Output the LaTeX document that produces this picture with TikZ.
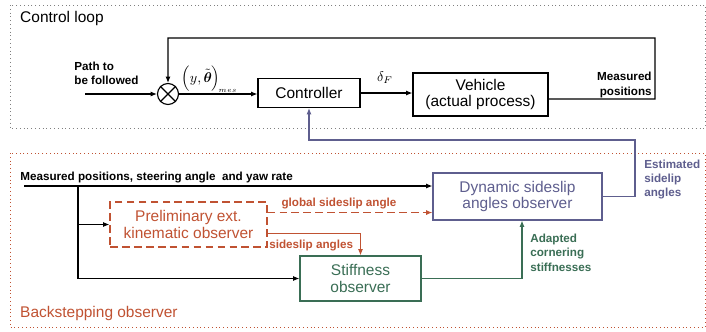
\documentclass[tikz,border=0pt]{standalone}
\usepackage{fontspec}
\setmainfont{Liberation Sans}
\usepackage{amsmath,amsbsy}
\usetikzlibrary{arrows.meta}
\definecolor{obsorange}{RGB}{192,82,50}
\definecolor{obsgreen}{RGB}{58,110,85}
\definecolor{obspurple}{RGB}{94,94,142}
\begin{document}
\begin{tikzpicture}[line width=0.8pt, x=0.025cm, y=-0.025cm, >={Latex[length=4.5pt,width=3.6pt]}]

    \tikzset{block/.style={%
      draw,%
      rectangle,%
      align=center,%
      inner sep=1pt,%
      font=\fontsize{11}{12}\selectfont}%
    };

    \tikzset{smalllabel/.style={font=\fontsize{8.3}{10.3}\selectfont\bfseries, inner sep=2pt}};
    \tikzset{framelabel/.style={font=\fontsize{11}{13}\selectfont, anchor=west}};
    \tikzset{frame/.style={dotted, line width=0.7pt}};

    \useasboundingbox (0,0) rectangle (706,331);

    %%%%%%%%%%%%%%%%%%
    %  control loop  %
    %%%%%%%%%%%%%%%%%%
    \draw[frame, gray] (10,5) rectangle (705,128);
    \node[framelabel] (cl) at (15,18) {Control loop};

    \node[circle, draw, minimum size=0.525cm, inner sep=0pt] (sum) at (168,94) {};
    \draw (sum.north west) -- (sum.south east);
    \draw (sum.north east) -- (sum.south west);
    \node[block, minimum width=2.55cm, minimum height=0.725cm] (ctrl) at (309,93) {Controller};
    \node[block, minimum width=3.375cm, minimum height=1.075cm] (veh) at (480.5,94.5) {Vehicle\\(actual process)};

    \node[smalllabel, align=left, anchor=west] (path) at (71,73.5) {Path to\\be followed};
    \coordinate (pin) at (85,94);
    \coordinate (fb) at (655,99);
    \coordinate (fbtop) at (655,38);

    \draw [->] (pin) -- (sum);
    \draw [->] (sum.east) -- (ctrl.west |- sum.east);
    \node[inner sep=0pt, anchor=west] (mes) at (181,79) {$\left(y,\tilde{\boldsymbol{\theta}}\right)_{\!\scriptscriptstyle mes}$};
    \draw [->] (ctrl.east) -- (veh.west |- ctrl.east);
    \node (dF) at (385,78) {$\delta_F$};
    \draw [->] ([yshift=-3.2pt]veh.east) -- (fb) -- (fbtop) -| (sum.north);
    \node[smalllabel, align=right, anchor=east] (mpos) at (655,85) {Measured\\positions};

    %%%%%%%%%%%%%%%%%%%%%%%%%%%
    %  backstepping observer  %
    %%%%%%%%%%%%%%%%%%%%%%%%%%%
    \draw[frame, obsorange] (10,153) rectangle (705,327);
    \node[framelabel, text=obsorange] (bo) at (15,313) {Backstepping observer};

    \node[block, obsorange, dash pattern=on 5.5pt off 3pt, minimum width=3.925cm, minimum height=1.125cm] (pre) at (188.5,224.5) {Preliminary ext.\\kinematic observer};
    \node[block, obsgreen, minimum width=3.025cm, minimum height=1.125cm] (stf) at (360.5,278.5) {Stiffness\\observer};
    \node[block, obspurple, minimum width=4.225cm, minimum height=1.175cm] (dyn) at (517.5,196.5) {Dynamic sideslip\\angles observer};

    \node[smalllabel, anchor=west] (meas) at (17,178) {Measured positions, steering angle \ and yaw rate};
    \coordinate (min) at (24,186);
    \coordinate (br) at (78,186);

    \draw [->] (min) -- (dyn.west |- min);
    \draw [->] (br) |- (stf.west);
    \draw [->] (br |- pre.west) -- (pre.west);

    \draw [->, obsorange, dash pattern=on 5.5pt off 3pt] ([yshift=8.5pt]pre.east) -- ([yshift=8.5pt]pre.east -| dyn.west);
    \node[smalllabel, text=obsorange] (gsa) at (339,204) {global sideslip angle};
    \draw [->, obsorange] ([yshift=-6.7pt]pre.east) -| (stf.north);
    \node[smalllabel, text=obsorange, anchor=west] (sa) at (266,246) {sideslip angles};

    \draw [->, obsgreen] (stf.east) -| ([xshift=3.2pt]dyn.south);
    \node[smalllabel, text=obsgreen, align=left, anchor=west] (acs) at (527,252.5) {Adapted\\cornering\\stiffnesses};

    \coordinate (est) at (635,140);
    \draw [->, obspurple] (dyn.east) -| (est) -| (ctrl.south);
    \node[smalllabel, text=obspurple, align=left, anchor=west] (esa) at (641,179.5) {Estimated\\sidelip\\angles};

  \end{tikzpicture}
\end{document}
